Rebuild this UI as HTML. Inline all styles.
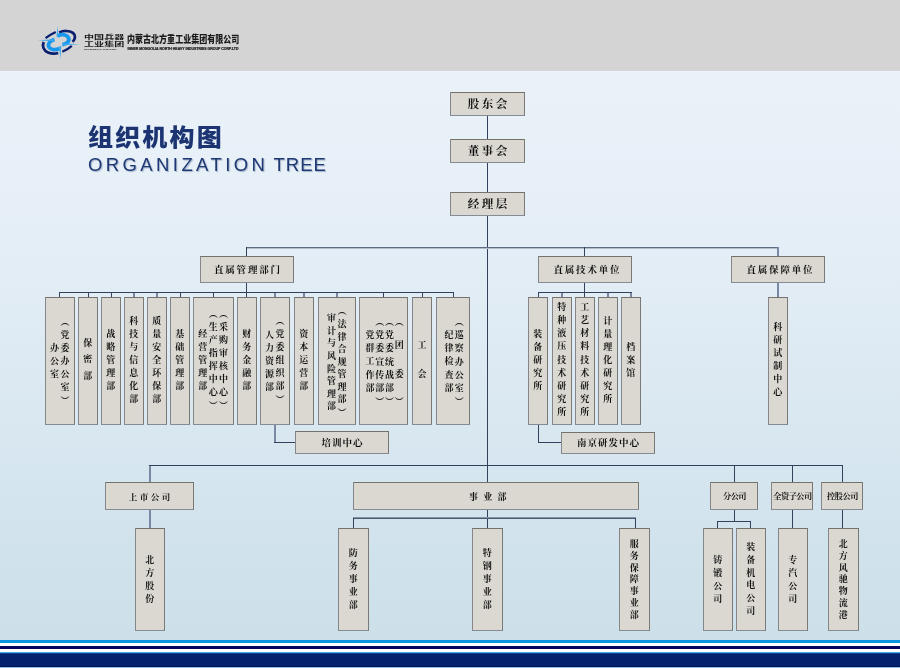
<!DOCTYPE html>
<html lang="zh-CN">
<head>
<meta charset="utf-8">
<title>组织机构图 ORGANIZATION TREE</title>
<style>
html,body{margin:0;padding:0}
body{width:900px;height:668px;position:relative;overflow:hidden;background:#d4d4d4;
 font-family:"Liberation Serif","Noto Serif CJK SC",serif;color:#111}
#bg{position:absolute;left:0;top:71px;width:900px;height:569px;
 background:linear-gradient(180deg,#eaf1f9 0%,#e6eff7 25%,#dce9f2 55%,#d0e2ec 85%,#cde0ea 100%)}
#bg:before{content:"";position:absolute;left:0;top:0;width:900px;height:1px;background:#eef4fb}
.ft{position:absolute;left:0;width:900px}
.b{position:absolute;box-sizing:border-box;will-change:transform;background:#dbd8d1;border:1px solid;border-color:#75726b #7b7975 #868c96 #85868a;
 display:flex;align-items:center;justify-content:center;white-space:nowrap;font-weight:bold}
.l{position:absolute;display:block;background:#33415d}
.h{display:block;line-height:1;position:relative;top:1px}
.t1{font-size:11.5px;letter-spacing:2.4px;margin-right:-2.4px}
.t2{font-size:9.5px;letter-spacing:1.8px;margin-right:-1.8px}
.t3{font-size:9.5px;letter-spacing:1px;margin-right:-1px}
.t4{font-size:8.5px;letter-spacing:2.5px;margin-right:-2.5px;top:1px}
.t5{font-size:9px;letter-spacing:5.3px}
.t6{font-size:8.2px;letter-spacing:-.5px;left:.5px;top:1.5px}
.vb{flex-direction:row}
.v{display:block;writing-mode:vertical-rl;font-size:9px;line-height:var(--lh,10.4px);letter-spacing:4px;margin-bottom:-4px;position:relative;top:calc(-2px + var(--dy,0px));left:calc(-1px + var(--dx,0px))}
.s .v{font-size:9px;top:calc(-1px + var(--dy,0px))}
.p{letter-spacing:4.2px}
.q{letter-spacing:0;margin-top:.8px}
#cn{position:absolute;left:88px;top:122px;font-family:"Liberation Sans","Noto Sans CJK SC",sans-serif;font-weight:900;
 font-size:23.4px;line-height:32px;letter-spacing:2px;transform:scaleX(1.07);transform-origin:0 0;color:#1c3572;white-space:nowrap}
#en{position:absolute;left:88px;top:153px;font-family:"Liberation Sans",sans-serif;font-size:18.5px;line-height:24px;
 letter-spacing:3.4px;color:#1e3873;white-space:nowrap;text-shadow:1px 1px 1px rgba(120,140,170,.6)}
#logo{position:absolute;left:30px;top:15px}
#cn,#en,#logo{will-change:transform}
</style>
</head>
<body>
<div id="bg"></div>
<svg id="logo" width="230" height="55" viewBox="30 15 230 55">
 <g fill="none" stroke-linecap="butt">
  <path d="M59.2 32.5 C63 30.5,69.5 30.3,73 32.9 C75.8 35.2,75.6 38.8,72.6 41.9" stroke="#0a1f6e" stroke-width="2.7"/>
  <path d="M43.8 42 C41.7 46,43.6 50.4,48 52.4 C51.5 53.9,55 54,58.2 53" stroke="#0a1f6e" stroke-width="2.7"/>
  <path d="M45.6 38.2 Q50.2 34.6 55.7 32" stroke="#0a1f6e" stroke-width="2.3"/>
  <path d="M62.3 51.8 Q67.5 49.6 71.8 45.8" stroke="#0a1f6e" stroke-width="2.3"/>
  <path d="M57.6 36.2 C60.5 33.8,66 34,68.3 37.5 C70 40.6,67.5 43.9,62.4 44.6" stroke="#1798ec" stroke-width="3.8"/>
  <path d="M54.4 39.6 C50 40.4,47.4 44,49 47.1 C50.6 49.9,55.6 50.6,59.4 48.3" stroke="#1798ec" stroke-width="3.8"/>
 </g>
 <g fill="#3aa8f0">
  <path d="M57.4 25.4 L58.4 37 L56.6 37.2 Z"/>
  <path d="M60.3 58.7 L59.1 46.5 L61.4 45.8 Z"/>
  <path d="M37.4 40.3 L54.6 39.2 L54.6 41.3 Z"/>
  <path d="M79.7 44.3 L62.6 43.3 L62.4 45.3 Z"/>
 </g>
 <g font-family="'Liberation Sans','Noto Sans CJK SC',sans-serif" font-weight="bold" fill="#1a1a1a">
  <text transform="translate(84 38.8) scale(1.68 1)" font-size="6">中国兵器</text>
  <text transform="translate(84 46.4) scale(1.77 1)" font-size="5.7">工业集团</text>
  <text transform="translate(84 49.9) scale(1.9 1)" font-size="2">NORINCO GROUP</text>
  <text transform="translate(127 42.6) scale(.812 1)" font-size="9.9" font-weight="900">内蒙古北方重工业集团有限公司</text>
  <text x="127.5" y="50.1" font-size="3.7" stroke="#1a1a1a" stroke-width=".22" textLength="111" lengthAdjust="spacingAndGlyphs">INNER MONGOLIA NORTH HEAVY INDUSTRIES GROUP CORP.LTD</text>
 </g>
</svg>
<div id="cn">组织机构图</div>
<div id="en">ORGANIZATION<span style="letter-spacing:1px;margin-left:-.5px"> TREE</span></div>
<div class="b " style="left:450px;top:92px;width:75px;height:24px"><span class="h t1">股东会</span></div>
<div class="b " style="left:450px;top:139px;width:75px;height:24px"><span class="h t1">董事会</span></div>
<div class="b " style="left:450px;top:192px;width:75px;height:24px"><span class="h t1">经理层</span></div>
<i class="l " style="left:487px;top:116px;width:1px;height:23px"></i>
<i class="l " style="left:487px;top:163px;width:1px;height:29px"></i>
<i class="l " style="left:487px;top:216px;width:1px;height:266px"></i>
<i class="l " style="left:487px;top:510px;width:1px;height:18px"></i>
<i class="l" style="left:246px;top:247px;width:533px;height:2px;background:linear-gradient(#5d6a83 50%,#b3bccb 50%)"></i>
<i class="l " style="left:246px;top:247px;width:1px;height:9px"></i>
<i class="l " style="left:584px;top:247px;width:1px;height:9px"></i>
<i class="l" style="left:777px;top:247px;width:2px;height:9px;background:#7a89a3"></i>
<div class="b " style="left:200px;top:256px;width:94px;height:27px"><span class="h t2">直属管理部门</span></div>
<div class="b " style="left:538px;top:256px;width:94px;height:27px"><span class="h t2" style="left:1.5px">直属技术单位</span></div>
<div class="b " style="left:731px;top:256px;width:94px;height:27px"><span class="h t2" style="left:1.5px">直属保障单位</span></div>
<i class="l " style="left:246px;top:283px;width:1px;height:9px"></i>
<i class="l " style="left:584px;top:283px;width:1px;height:9px"></i>
<i class="l" style="left:777px;top:283px;width:2px;height:14px;background:#7a89a3"></i>
<i class="l " style="left:59px;top:292px;width:395px;height:1px"></i>
<div class="b vb" style="left:45px;top:297px;width:30px;height:128px;--dy:1.2px"><span class="v">办公室</span><span class="v" style="letter-spacing:4px;margin-bottom:-0.6px"><span class="p">（</span>党委办公室<span class="q">）</span></span></div>
<i class="l " style="left:59px;top:292px;width:1px;height:5px"></i>
<div class="b vb" style="left:78px;top:297px;width:20px;height:128px"><span class="v" style="letter-spacing:7.3px;margin-bottom:-7.3px">保密部</span></div>
<i class="l " style="left:88px;top:292px;width:1px;height:5px"></i>
<div class="b vb" style="left:101px;top:297px;width:20px;height:128px"><span class="v">战略管理部</span></div>
<i class="l " style="left:111px;top:292px;width:1px;height:5px"></i>
<div class="b vb" style="left:124px;top:297px;width:20px;height:128px"><span class="v">科技与信息化部</span></div>
<i class="l" style="left:133px;top:293px;width:2px;height:4px;background:#7a89a3"></i>
<div class="b vb" style="left:147px;top:297px;width:20px;height:128px"><span class="v">质量安全环保部</span></div>
<i class="l" style="left:156px;top:293px;width:2px;height:4px;background:#7a89a3"></i>
<div class="b vb" style="left:170px;top:297px;width:20px;height:128px"><span class="v">基础管理部</span></div>
<i class="l " style="left:180px;top:292px;width:1px;height:5px"></i>
<div class="b vb" style="left:193px;top:297px;width:41px;height:128px"><span class="v">经营管理部</span><span class="v" style="letter-spacing:4px;margin-bottom:-0.6px"><span class="p">（</span>生产指挥中心<span class="q">）</span></span><span class="v" style="letter-spacing:4px;margin-bottom:-0.6px"><span class="p">（</span>采购审核中心<span class="q">）</span></span></div>
<i class="l " style="left:213px;top:292px;width:1px;height:5px"></i>
<div class="b vb" style="left:237px;top:297px;width:20px;height:128px"><span class="v">财务金融部</span></div>
<i class="l " style="left:246px;top:292px;width:1px;height:5px"></i>
<div class="b vb" style="left:260px;top:297px;width:30px;height:128px;--dy:1px"><span class="v">人力资源部</span><span class="v" style="letter-spacing:4px;margin-bottom:-0.6px"><span class="p">（</span>党委组织部<span class="q">）</span></span></div>
<i class="l" style="left:274px;top:293px;width:2px;height:4px;background:#7a89a3"></i>
<div class="b vb" style="left:294px;top:297px;width:20px;height:128px"><span class="v">资本运营部</span></div>
<i class="l" style="left:303px;top:293px;width:2px;height:4px;background:#7a89a3"></i>
<div class="b vb" style="left:318px;top:297px;width:38px;height:128px;--dy:2.5px"><span class="v" style="letter-spacing:3.65px;margin-bottom:-3.6px">审计与风险管理部</span><span class="v" style="letter-spacing:3.55px;margin-bottom:-0.1px"><span class="p">（</span>法律合规管理部<span class="q">）</span></span></div>
<i class="l" style="left:336px;top:293px;width:2px;height:4px;background:#7a89a3"></i>
<div class="b vb" style="left:359px;top:297px;width:49px;height:128px;--dy:2.2px;--dx:.7px;--lh:9.8px"><span class="v" style="letter-spacing:4.25px;margin-bottom:-4.2px">党群工作部</span><span class="v" style="letter-spacing:4.25px;margin-bottom:-0.8px"><span class="p">（</span>党委宣传部<span class="q">）</span></span><span class="v" style="letter-spacing:4.25px;margin-bottom:-0.8px"><span class="p">（</span>党委统战部<span class="q">）</span></span><span class="v" style="letter-spacing:4.25px;margin-bottom:-.35px"><span class="p">（</span><span style="margin-top:9.9px">团</span><span style="margin-top:16.3px">委</span><span class="q" style="margin-top:14.3px">）</span></span></div>
<i class="l " style="left:383px;top:292px;width:1px;height:5px"></i>
<div class="b vb" style="left:412px;top:297px;width:20px;height:128px;--dx:.4px"><span class="v" style="letter-spacing:20px;margin-bottom:-20.0px">工会</span></div>
<i class="l " style="left:422px;top:292px;width:1px;height:5px"></i>
<div class="b vb" style="left:436px;top:297px;width:34px;height:128px;--dy:2.2px;--dx:1.4px"><span class="v" style="letter-spacing:4.25px;margin-bottom:-4.2px">纪律检查部</span><span class="v" style="letter-spacing:4.25px;margin-bottom:-0.8px"><span class="p">（</span>巡察办公室<span class="q">）</span></span></div>
<i class="l " style="left:453px;top:292px;width:1px;height:5px"></i>
<i class="l" style="left:274px;top:425px;width:2px;height:17px;background:#7a89a3"></i>
<i class="l " style="left:274px;top:442px;width:21px;height:1px"></i>
<div class="b " style="left:295px;top:431px;width:94px;height:23px"><span class="h t3">培训中心</span></div>
<i class="l " style="left:538px;top:292px;width:94px;height:1px"></i>
<div class="b vb" style="left:528px;top:297px;width:20px;height:128px"><span class="v">装备研究所</span></div>
<i class="l " style="left:538px;top:292px;width:1px;height:5px"></i>
<div class="b vb" style="left:552px;top:297px;width:20px;height:128px"><span class="v" style="letter-spacing:4.15px;margin-bottom:-4.2px">特种液压技术研究所</span></div>
<i class="l" style="left:561px;top:293px;width:2px;height:4px;background:#7a89a3"></i>
<div class="b vb" style="left:575px;top:297px;width:20px;height:128px"><span class="v" style="letter-spacing:4.15px;margin-bottom:-4.2px">工艺材料技术研究所</span></div>
<i class="l " style="left:584px;top:292px;width:1px;height:5px"></i>
<div class="b vb" style="left:598px;top:297px;width:20px;height:128px"><span class="v">计量理化研究所</span></div>
<i class="l" style="left:607px;top:293px;width:2px;height:4px;background:#7a89a3"></i>
<div class="b vb" style="left:621px;top:297px;width:20px;height:128px"><span class="v">档案馆</span></div>
<i class="l" style="left:630px;top:293px;width:2px;height:4px;background:#7a89a3"></i>
<i class="l " style="left:538px;top:425px;width:1px;height:17px"></i>
<i class="l " style="left:538px;top:442px;width:23px;height:1px"></i>
<div class="b " style="left:561px;top:432px;width:94px;height:22px"><span class="h t3">南京研发中心</span></div>
<div class="b vb" style="left:768px;top:297px;width:20px;height:128px"><span class="v">科研试制中心</span></div>
<i class="l " style="left:149px;top:465px;width:694px;height:1px"></i>
<i class="l" style="left:149px;top:466px;width:2px;height:16px;background:#7a89a3"></i>
<i class="l " style="left:734px;top:465px;width:1px;height:17px"></i>
<i class="l " style="left:792px;top:465px;width:1px;height:17px"></i>
<i class="l " style="left:842px;top:465px;width:1px;height:17px"></i>
<div class="b " style="left:105px;top:482px;width:89px;height:28px"><span class="h t4">上市公司</span></div>
<div class="b " style="left:353px;top:482px;width:286px;height:28px"><span class="h t5" style="position:absolute;left:115px;top:2px;line-height:25px">事业部</span></div>
<div class="b " style="left:710px;top:482px;width:48px;height:28px"><span class="h t6">分公司</span></div>
<div class="b " style="left:771px;top:482px;width:42px;height:28px"><span class="h t6">全资子公司</span></div>
<div class="b " style="left:821px;top:482px;width:42px;height:28px"><span class="h t6">控股公司</span></div>
<i class="l" style="left:149px;top:510px;width:2px;height:18px;background:#7a89a3"></i>
<i class="l" style="left:353px;top:517px;width:283px;height:2px;background:linear-gradient(#8492aa 50%,#4a5872 50%)"></i>
<i class="l " style="left:353px;top:518px;width:1px;height:10px"></i>
<i class="l " style="left:635px;top:518px;width:1px;height:10px"></i>
<i class="l " style="left:734px;top:510px;width:1px;height:11px"></i>
<i class="l " style="left:717px;top:521px;width:34px;height:1px"></i>
<i class="l " style="left:717px;top:521px;width:1px;height:7px"></i>
<i class="l " style="left:750px;top:521px;width:1px;height:7px"></i>
<i class="l " style="left:792px;top:510px;width:1px;height:18px"></i>
<i class="l " style="left:842px;top:510px;width:1px;height:18px"></i>
<div class="b vb s" style="left:135px;top:528px;width:30px;height:103px"><span class="v" style="letter-spacing:4px;margin-bottom:-4.0px">北方股份</span></div>
<div class="b vb s" style="left:338px;top:528px;width:31px;height:103px"><span class="v" style="letter-spacing:4px;margin-bottom:-4.0px">防务事业部</span></div>
<div class="b vb s" style="left:472px;top:528px;width:31px;height:103px"><span class="v" style="letter-spacing:4px;margin-bottom:-4.0px">特钢事业部</span></div>
<div class="b vb s" style="left:619px;top:528px;width:31px;height:103px"><span class="v" style="letter-spacing:2.8px;margin-bottom:-2.8px">服务保障事业部</span></div>
<div class="b vb s" style="left:703px;top:528px;width:30px;height:103px"><span class="v" style="letter-spacing:4px;margin-bottom:-4.0px">铸锻公司</span></div>
<div class="b vb s" style="left:736px;top:528px;width:30px;height:103px"><span class="v" style="letter-spacing:3.8px;margin-bottom:-3.8px">装备机电公司</span></div>
<div class="b vb s" style="left:778px;top:528px;width:30px;height:103px"><span class="v" style="letter-spacing:4px;margin-bottom:-4.0px">专汽公司</span></div>
<div class="b vb s" style="left:828px;top:528px;width:31px;height:103px"><span class="v" style="letter-spacing:2.8px;margin-bottom:-2.8px">北方风驰物流港</span></div>
<div class="ft" style="top:640px;height:3px;background:#0a95e0"></div>
<div class="ft" style="top:643px;height:3px;background:#fff"></div>
<div class="ft" style="top:646px;height:3px;background:#04045f"></div>
<div class="ft" style="top:649px;height:3px;background:#fff"></div>
<div class="ft" style="top:652px;height:1px;background:#44a8e6"></div>
<div class="ft" style="top:653px;height:1px;background:#0e4496"></div>
<div class="ft" style="top:654px;height:12px;background:#05226f"></div>
<div class="ft" style="top:666px;height:1px;background:#031558"></div>
<div class="ft" style="top:667px;height:1px;background:#8ec4e6"></div>
</body>
</html>
